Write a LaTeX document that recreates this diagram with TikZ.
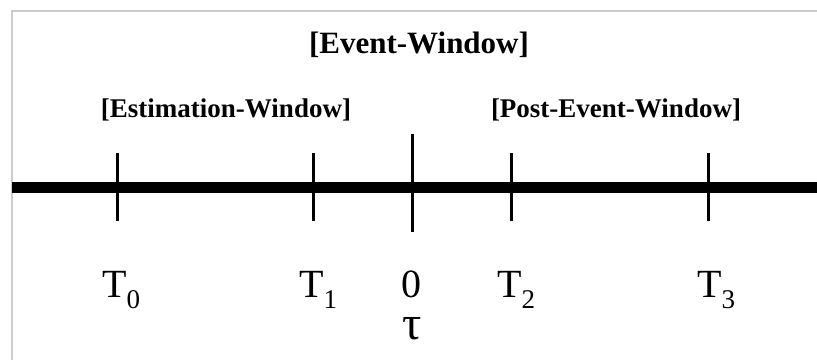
\documentclass[tikz,border=0pt]{standalone}
\usepackage{fontspec}
\setmainfont{Liberation Serif}
\newcommand{\tsub}[2]{#1\raisebox{-11pt}{\fontsize{27}{27}\selectfont #2}}
\begin{document}
\begin{tikzpicture}[x=1pt,y=-1pt,
  frameline/.style={draw=black!20,line width=2pt},
  axisline/.style={line width=11pt},
  tickline/.style={line width=3pt},
  wintitle/.style={font=\bfseries\fontsize{27}{27}\selectfont,inner sep=0pt,anchor=base},
  bigtitle/.style={font=\bfseries\fontsize{31}{31}\selectfont,inner sep=0pt,anchor=base},
  ticklabel/.style={font=\fontsize{40}{40}\selectfont,inner sep=0pt,anchor=base west}]
\useasboundingbox (0,0) rectangle (817,360);
% light frame along the top and left
\coordinate (fbl) at (12,360);
\coordinate (ftl) at (12,11);
\coordinate (ftr) at (817,11);
\draw[frameline] (fbl) -- (ftl) -- (ftr);
% time axis
\coordinate (axL) at (12,187.5);
\coordinate (axR) at (817,187.5);
\draw[axisline] (axL) -- (axR);
% tick marks
\foreach \n/\x in {t0/117,t1/313,t2/511,t3/708}{
  \coordinate (\n top) at (\x,153);
  \coordinate (\n bot) at (\x,221);
  \draw[tickline] (\n top) -- (\n bot);
}
\coordinate (ztop) at (412,134);
\coordinate (zbot) at (412,232);
\draw[tickline] (ztop) -- (zbot);
% window titles
\node[bigtitle] (ev) at (419,53) {[Event-Window]};
\node[wintitle] (est) at (226,117) {[Estimation-Window]};
\node[wintitle] (post) at (616,117) {[Post-Event-Window]};
% tick labels
\node[ticklabel] (l0) at (102,297) {\tsub{T}{0}};
\node[ticklabel] (l1) at (299,297) {\tsub{T}{1}};
\node[ticklabel] (l2) at (497,297) {\tsub{T}{2}};
\node[ticklabel] (l3) at (697,297) {\tsub{T}{3}};
\node[ticklabel,anchor=base] (lz) at (411,297) {0};
\node[ticklabel,anchor=base,font=\fontsize{48}{48}\selectfont] (ltau) at (412,339) {τ};
\end{tikzpicture}
\end{document}
